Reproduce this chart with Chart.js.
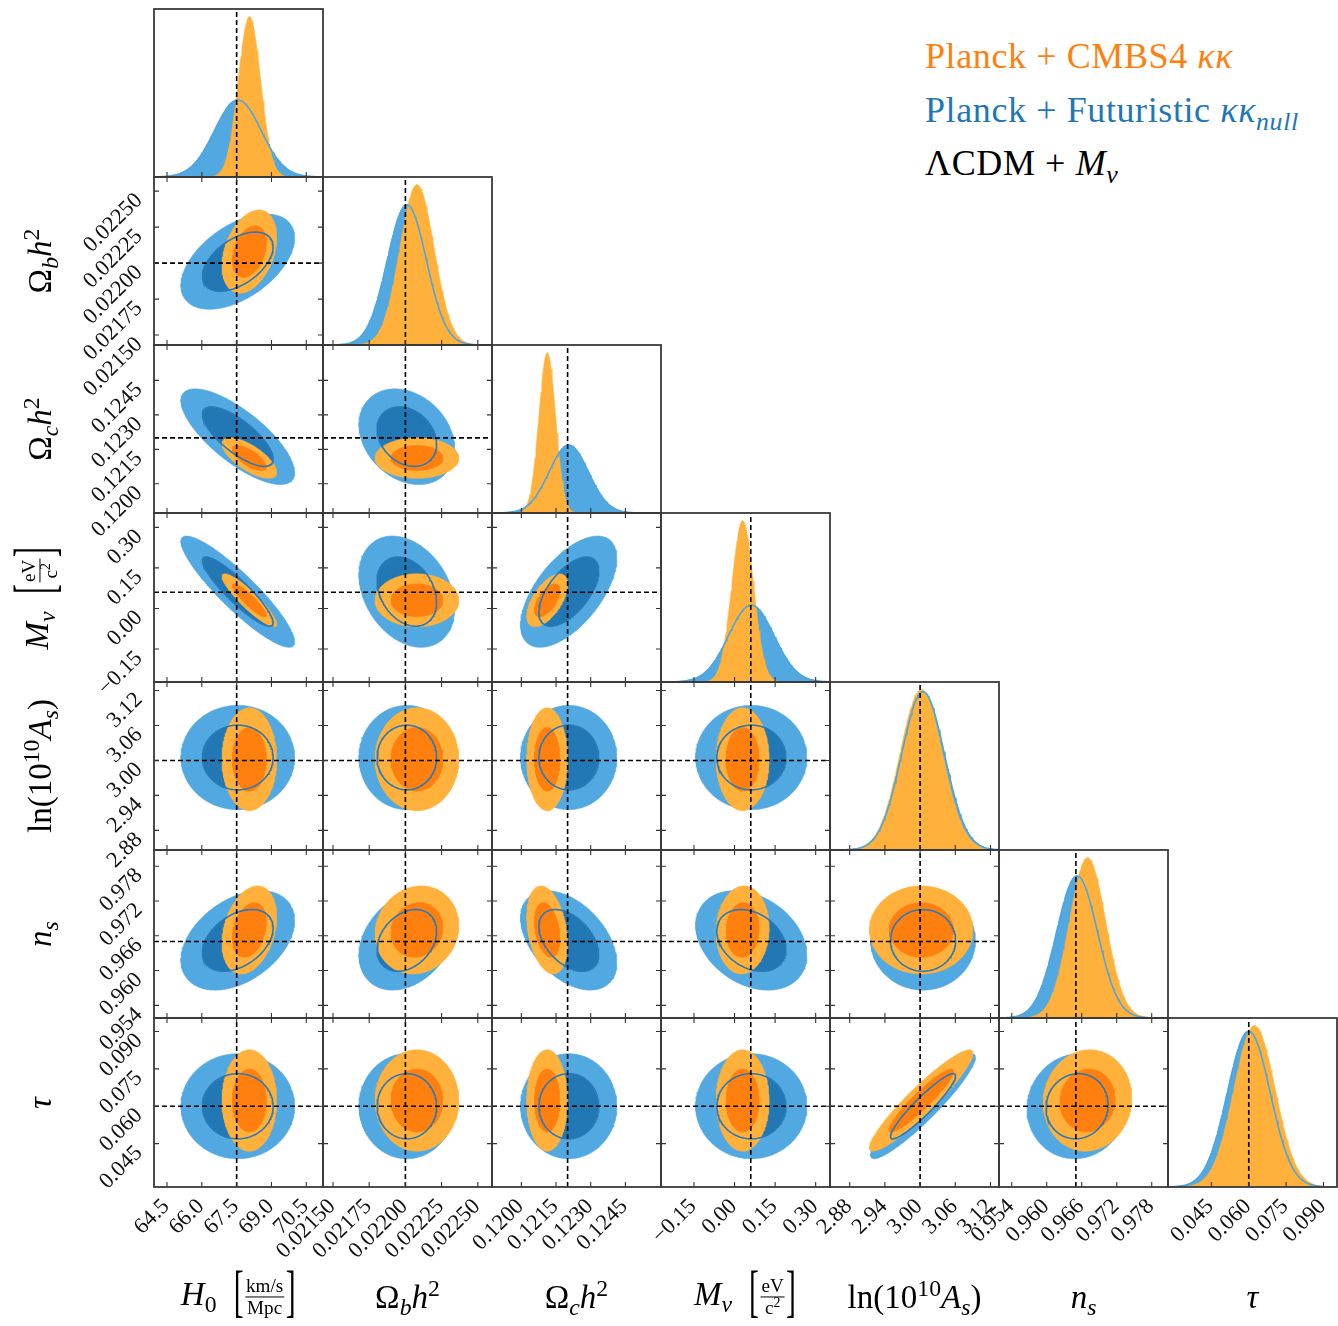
<!DOCTYPE html>
<html>
<head>
<meta charset="utf-8">
<script src="https://cdn.jsdelivr.net/npm/chart.js@4.4.0/dist/chart.umd.min.js"></script>
<style>
  body { margin: 0; background: #fff; }
  #fig { position: relative; width: 1338px; height: 1326px; overflow: hidden; font-family: "Liberation Serif", "DejaVu Serif", serif; color: #000; }
  #fig canvas { position: absolute; }
  .title { position: absolute; white-space: nowrap; font-size: 33px; line-height: 1; }
  .title sub, .title sup, .leg sub { line-height: 0; font-size: 0.72em; }
  .frac { display: inline-flex; flex-direction: column; align-items: center; vertical-align: middle; font-size: 0.58em; line-height: 1.1; margin: 0 1px; }
  .frac span:first-child { border-bottom: 1.5px solid #000; padding: 0 1px; }
  .brk { display: inline-block; transform: scale(0.9, 1.7); vertical-align: 0.05em; font-weight: 300; }
  .leg { position: absolute; left: 925px; font-size: 36px; letter-spacing: 0.6px; line-height: 1; white-space: nowrap; }
</style>
</head>
<body>
<div id="fig"></div>
<script>
// parameter order: H0, Ombh2, Omch2, Mnu, ln(10^10 As), ns, tau
const PARAM_MIN = [63.94, 0.021431, 0.11873, -0.272, 2.8464, 0.95182, 0.0276];
const PARAM_MAX = [71.22, 0.022598, 0.12604, 0.353, 3.1345, 0.98079, 0.0954];
const TRUTH = [67.5, 0.0220, 0.1220, 0.06, 3.00, 0.965, 0.060];

const TICKS = [
  [64.5, 66.0, 67.5, 69.0, 70.5],
  [0.02150, 0.02175, 0.02200, 0.02225, 0.02250],
  [0.1200, 0.1215, 0.1230, 0.1245],
  [-0.15, 0.00, 0.15, 0.30],
  [2.88, 2.94, 3.00, 3.06, 3.12],
  [0.954, 0.960, 0.966, 0.972, 0.978],
  [0.045, 0.060, 0.075, 0.090]
];
const TICK_DECIMALS = [1, 5, 4, 2, 2, 3, 3];

// Planck + CMBS4 kk
const MEAN_CMBS4  = [68.05, 0.02208, 0.12112, 0.030, 3.002, 0.9670, 0.0623];
const SIGMA_CMBS4 = [0.48, 0.000118, 0.00036, 0.040, 0.036, 0.0031, 0.0083];
// Planck + Futuristic kk_null
const MEAN_NULL  = [67.55, 0.02201, 0.12205, 0.062, 3.005, 0.9652, 0.0600];
const SIGMA_NULL = [1.00, 0.000135, 0.00085, 0.084, 0.0365, 0.0035, 0.0086];

// correlation coefficients, lower triangle: row j holds corr(j, 0..j-1)
const CORR_CMBS4 = [
  [],
  [0.35],
  [-0.70, 0.00],
  [-0.90, 0.00, 0.60],
  [0.00, 0.00, 0.00, 0.00],
  [0.30, 0.10, -0.30, 0.05, 0.00],
  [0.00, 0.00, 0.00, 0.00, 0.93, 0.05]
];
const CORR_NULL = [
  [],
  [0.50],
  [-0.75, -0.25],
  [-0.90, -0.30, 0.60],
  [0.00, 0.00, 0.00, 0.00],
  [0.40, 0.30, -0.45, -0.30, 0.00],
  [0.00, 0.00, 0.00, 0.00, 0.93, 0.05]
];

// radii (in sigma) of the 68% and 95% 2D contours
const LEVEL_RADIUS = [1.52, 2.45];

const COLORS = {
  blueLight: '#52a8e0', blueDark: '#2178b5', blueLine: '#2a7ab8', blue1d: '#4ea6df',
  orangeLight: '#ffb13b', orangeDark: '#ff800e'
};

const N = PARAM_MIN.length;
const M = 100;                       // canvas margin around each panel, room for tick labels
const GRID_LEFT = 154, COL_W = 169, GRID_TOP = 8.5, ROW_H = 168.3;
const fig = document.getElementById('fig');

function panelBox(r, c) {
  const left = Math.round(GRID_LEFT + c * COL_W), right = Math.round(GRID_LEFT + (c + 1) * COL_W);
  const top = Math.round(GRID_TOP + r * ROW_H), bottom = Math.round(GRID_TOP + (r + 1) * ROW_H);
  return { left, top, width: right - left, height: bottom - top };
}

function fmt(v, d) {
  return (v < 0 ? '\u2212' : '') + Math.abs(v).toFixed(d);
}

function ellipse(mx, my, sx, sy, rho, r) {
  const pts = [];
  const k = Math.sqrt(1 - rho * rho);
  for (let i = 0; i <= 140; i++) {
    const t = i / 140 * 2 * Math.PI;
    const u = Math.cos(t), v = Math.sin(t);
    pts.push({ x: mx + r * sx * u, y: my + r * sy * (rho * u + k * v) });
  }
  return pts;
}

function gaussCurve(mu, sig, lo, hi) {
  const pts = [];
  for (let i = 0; i <= 200; i++) {
    const x = lo + (hi - lo) * i / 200;
    const z = (x - mu) / sig;
    pts.push({ x, y: Math.exp(-0.5 * z * z) / (sig * Math.sqrt(2 * Math.PI)) });
  }
  return pts;
}

function area(data, color, fill, layer) {
  return { data, fill, backgroundColor: color, borderColor: color, borderWidth: 0.6,
           pointRadius: 0, order: -layer };
}
function outline(data, color, width, layer) {
  return { data, fill: false, borderColor: color, borderWidth: width, pointRadius: 0, order: -layer };
}
function dashed(data, layer) {
  return { data, fill: false, borderColor: '#000', borderWidth: 1.6, borderDash: [5, 3],
           pointRadius: 0, order: -layer };
}

// frame, inward ticks and rotated tick labels
const framePlugin = {
  id: 'frame',
  afterDraw(chart, args, opts) {
    const ctx = chart.ctx, a = chart.chartArea;
    const xs = chart.scales.x, ys = chart.scales.y;
    const { row, col, diag } = opts;
    const TL = 5;
    ctx.save();
    ctx.strokeStyle = '#333';
    ctx.lineWidth = 1.1;
    ctx.beginPath();
    for (const v of TICKS[col]) {
      const px = xs.getPixelForValue(v);
      ctx.moveTo(px, a.bottom); ctx.lineTo(px, a.bottom - TL);
      if (!diag) { ctx.moveTo(px, a.top); ctx.lineTo(px, a.top + TL); }
    }
    if (!diag) {
      for (const v of TICKS[row]) {
        const py = ys.getPixelForValue(v);
        ctx.moveTo(a.left, py); ctx.lineTo(a.left + TL, py);
        ctx.moveTo(a.right, py); ctx.lineTo(a.right - TL, py);
      }
    }
    ctx.stroke();
    ctx.lineWidth = 1.8;
    ctx.strokeStyle = '#3a3a3a';
    ctx.strokeRect(a.left, a.top, a.right - a.left, a.bottom - a.top);

    ctx.fillStyle = '#111';
    ctx.font = '22.5px "Liberation Serif", serif';
    ctx.textAlign = 'right';
    ctx.textBaseline = 'middle';
    if (row === N - 1) {
      for (const v of TICKS[col]) {
        const px = xs.getPixelForValue(v);
        ctx.save();
        ctx.translate(px - 1, a.bottom + 16);
        ctx.rotate(-Math.PI / 4);
        ctx.fillText(fmt(v, TICK_DECIMALS[col]), 0, 0);
        ctx.restore();
      }
    }
    if (col === 0 && !diag) {
      for (const v of TICKS[row]) {
        const py = ys.getPixelForValue(v);
        ctx.save();
        ctx.translate(a.left - 15, py + 6);
        ctx.rotate(-Math.PI / 4);
        ctx.fillText(fmt(v, TICK_DECIMALS[row]), 0, 0);
        ctx.restore();
      }
    }
    ctx.restore();
  }
};

function makePanel(r, c, datasets, yMin, yMax, diag) {
  const box = panelBox(r, c);
  const cv = document.createElement('canvas');
  cv.width = box.width + 2 * M;
  cv.height = box.height + 2 * M;
  cv.style.left = (box.left - M) + 'px';
  cv.style.top = (box.top - M) + 'px';
  cv.style.width = cv.width + 'px';
  cv.style.height = cv.height + 'px';
  fig.appendChild(cv);
  new Chart(cv.getContext('2d'), {
    type: 'line',
    data: { datasets },
    options: {
      animation: false, responsive: false, maintainAspectRatio: false, devicePixelRatio: 1,
      layout: { padding: M },
      elements: { line: { tension: 0 }, point: { radius: 0 } },
      plugins: { legend: { display: false }, tooltip: { enabled: false },
                 frame: { row: r, col: c, diag } },
      scales: {
        x: { type: 'linear', min: PARAM_MIN[c], max: PARAM_MAX[c], display: false },
        y: { type: 'linear', min: yMin, max: yMax, display: false }
      }
    },
    plugins: [framePlugin]
  });
}

// diagonal: 1D marginals
for (let i = 0; i < N; i++) {
  const lo = PARAM_MIN[i], hi = PARAM_MAX[i];
  const blue = gaussCurve(MEAN_NULL[i], SIGMA_NULL[i], lo, hi);
  const orange = gaussCurve(MEAN_CMBS4[i], SIGMA_CMBS4[i], lo, hi);
  const peak = Math.max(1 / (SIGMA_NULL[i] * Math.sqrt(2 * Math.PI)),
                        1 / (SIGMA_CMBS4[i] * Math.sqrt(2 * Math.PI)));
  const yMax = peak / 0.955;
  makePanel(i, i, [
    area(blue, COLORS.blueLight, 'origin', 0),
    area(orange, COLORS.orangeLight, 'origin', 1),
    outline(blue, COLORS.blue1d, 1.6, 2),
    dashed([{ x: TRUTH[i], y: 0 }, { x: TRUTH[i], y: yMax }], 3)
  ], 0, yMax, true);
}

// lower triangle: 2D contours, x = parameter c, y = parameter r
for (let r = 1; r < N; r++) {
  for (let c = 0; c < r; c++) {
    const ob = ellipse.bind(null, MEAN_NULL[c], MEAN_NULL[r], SIGMA_NULL[c], SIGMA_NULL[r], CORR_NULL[r][c]);
    const oo = ellipse.bind(null, MEAN_CMBS4[c], MEAN_CMBS4[r], SIGMA_CMBS4[c], SIGMA_CMBS4[r], CORR_CMBS4[r][c]);
    const blueInner = ob(LEVEL_RADIUS[0]);
    makePanel(r, c, [
      area(ob(LEVEL_RADIUS[1]), COLORS.blueLight, 'shape', 0),
      area(blueInner, COLORS.blueDark, 'shape', 1),
      area(oo(LEVEL_RADIUS[1]), COLORS.orangeLight, 'shape', 2),
      area(oo(LEVEL_RADIUS[0]), COLORS.orangeDark, 'shape', 3),
      outline(blueInner, COLORS.blueLine, 1.6, 4),
      dashed([{ x: TRUTH[c], y: PARAM_MIN[r] }, { x: TRUTH[c], y: PARAM_MAX[r] }], 5),
      dashed([{ x: PARAM_MIN[c], y: TRUTH[r] }, { x: PARAM_MAX[c], y: TRUTH[r] }], 6)
    ], PARAM_MIN[r], PARAM_MAX[r], false);
  }
}

// axis titles
const BRACKET_EV = '<span class="brk">[</span><span class="frac"><span>eV</span><span>c<sup>2</sup></span></span><span class="brk">]</span>';
const BRACKET_H0 = '<span class="brk">[</span><span class="frac"><span>km/s</span><span>Mpc</span></span><span class="brk">]</span>';
const AXIS_TITLES = [
  '<i>H</i><sub>0</sub>&nbsp;&nbsp;' + BRACKET_H0,
  '&Omega;<sub><i>b</i></sub><i>h</i><sup>2</sup>',
  '&Omega;<sub><i>c</i></sub><i>h</i><sup>2</sup>',
  '<i>M</i><sub><i>&nu;</i></sub>&nbsp;&nbsp;' + BRACKET_EV,
  'ln(10<sup>10</sup><i>A</i><sub><i>s</i></sub>)',
  '<i>n</i><sub><i>s</i></sub>',
  '<i>&tau;</i>'
];

for (let i = 0; i < N; i++) {
  const box = panelBox(N - 1, i);
  const d = document.createElement('div');
  d.className = 'title';
  d.innerHTML = AXIS_TITLES[i];
  d.style.left = (box.left + box.width / 2) + 'px';
  d.style.top = '1297px';
  d.style.transform = 'translate(-50%, -50%)';
  fig.appendChild(d);
}
for (let i = 1; i < N; i++) {
  const box = panelBox(i, 0);
  const d = document.createElement('div');
  d.className = 'title';
  d.innerHTML = AXIS_TITLES[i];
  d.style.left = '40px';
  d.style.top = (box.top + box.height / 2) + 'px';
  d.style.transform = 'translate(-50%, -50%) rotate(-90deg)';
  fig.appendChild(d);
}

// legend text
const LEGEND = [
  { html: 'Planck + CMBS4 <i>&kappa;&kappa;</i>', color: '#ff7f0e', top: 38 },
  { html: 'Planck + Futuristic <i>&kappa;&kappa;<sub>null</sub></i>', color: '#1f77b4', top: 91.5 },
  { html: '&Lambda;CDM + <i>M</i><sub><i>&nu;</i></sub>', color: '#000', top: 145 }
];
for (const l of LEGEND) {
  const d = document.createElement('div');
  d.className = 'leg';
  d.innerHTML = l.html;
  d.style.color = l.color;
  d.style.top = l.top + 'px';
  fig.appendChild(d);
}
</script>
</body>
</html>
